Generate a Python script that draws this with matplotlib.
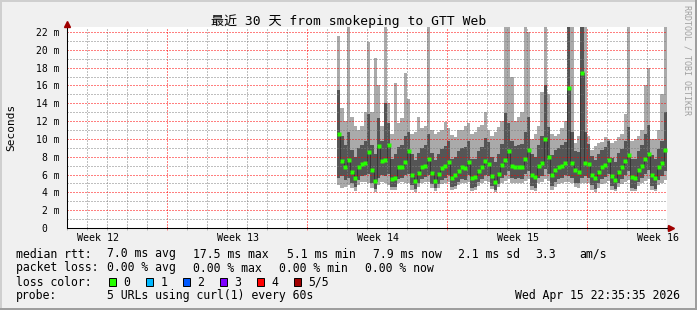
import numpy as np
import matplotlib
matplotlib.use("Agg")
import matplotlib.pyplot as plt
from matplotlib.patches import Rectangle

# sampled smoke data, ms; one sample every 4 hours starting at day 13.5 of 30
start_day = 13.5
step_day = 1 / 6

med = [10.5, 7.5, 6.8, 7.6, 6.3, 5.6, 6.9, 7.2, 7.3, 8.5,
       6.5, 5.3, 9.2, 7.5, 7.6, 9.3, 5.5, 5.6, 6.9, 6.9,
       7.4, 8.6, 6.0, 5.3, 6.2, 6.8, 7.0, 7.8, 6.2, 5.3,
       6.1, 6.7, 7.0, 7.4, 5.6, 5.9, 6.4, 6.8, 6.7, 7.4,
       5.6, 5.7, 6.4, 6.8, 7.5, 7.2, 5.8, 5.2, 6.1, 7.1,
       7.6, 8.6, 7.0, 6.8, 6.9, 6.8, 7.8, 8.7, 6.0, 5.7,
       7.0, 7.3, 10.0, 8.0, 5.9, 6.5, 6.8, 7.0, 7.3, 15.7,
       7.3, 6.5, 6.3, 17.4, 7.3, 7.2, 6.0, 5.6, 6.3, 6.8,
       7.1, 7.6, 5.8, 5.4, 6.3, 6.8, 7.5, 8.2, 5.7, 5.6,
       6.5, 7.0, 7.7, 8.3, 6.0, 5.6, 6.8, 7.3, 8.8]

lo = [4.8, 4.5, 4.6, 4.8, 4.5, 4.2, 4.8, 5.2, 5.2, 5.0,
      4.5, 4.0, 4.8, 5.2, 5.0, 4.8, 4.3, 4.3, 5.0, 5.2,
      5.0, 5.0, 4.3, 4.0, 4.6, 5.0, 5.2, 5.2, 4.5, 4.2,
      4.5, 4.9, 5.1, 5.2, 4.3, 4.4, 4.8, 5.0, 5.0, 5.2,
      4.2, 4.3, 4.7, 5.0, 5.3, 5.2, 4.4, 4.0, 4.6, 5.0,
      5.3, 5.5, 5.0, 5.0, 5.0, 5.0, 5.3, 5.5, 4.3, 4.2,
      5.0, 5.2, 5.5, 5.3, 4.3, 4.6, 4.9, 5.0, 5.2, 5.2,
      5.0, 4.6, 4.5, 5.0, 5.0, 5.0, 4.3, 4.0, 4.5, 4.9,
      5.1, 5.3, 4.3, 4.1, 4.6, 4.9, 5.2, 5.4, 4.2, 4.1,
      4.7, 5.0, 5.3, 5.5, 4.3, 4.1, 4.8, 5.1, 5.4]

q1 = [5.6, 5.8, 5.4, 5.6, 5.0, 4.6, 5.4, 5.8, 5.9, 6.1,
      5.1, 4.4, 5.6, 5.9, 5.8, 6.1, 4.6, 4.6, 5.5, 5.6,
      5.9, 6.1, 4.8, 4.4, 5.0, 5.5, 5.7, 6.0, 4.9, 4.5,
      4.9, 5.4, 5.6, 5.9, 4.6, 4.7, 5.2, 5.5, 5.4, 5.9,
      4.5, 4.6, 5.2, 5.5, 6.0, 5.8, 4.7, 4.3, 4.9, 5.6,
      6.0, 6.4, 5.6, 5.5, 5.6, 5.5, 6.1, 6.4, 4.7, 4.5,
      5.6, 5.8, 6.6, 6.1, 4.7, 5.2, 5.5, 5.6, 5.9, 5.8,
      5.6, 5.1, 5.0, 5.6, 5.8, 5.6, 4.8, 4.4, 5.0, 5.5,
      5.7, 6.1, 4.7, 4.4, 5.0, 5.5, 6.0, 6.4, 4.5, 4.4,
      5.2, 5.6, 6.1, 6.5, 4.7, 4.4, 5.4, 5.8, 6.4]

q3 = [15.5, 10.3, 9.3, 10.8, 8.8, 8.0, 9.0, 9.3, 9.8, 12.8,
      9.3, 8.3, 12.3, 9.8, 14.0, 11.8, 7.8, 8.3, 9.1, 9.3,
      10.3, 10.8, 8.3, 7.6, 8.4, 9.0, 9.3, 10.6, 8.4, 7.6,
      8.3, 8.9, 9.2, 9.8, 7.8, 8.0, 8.6, 9.0, 9.1, 9.8,
      7.8, 7.8, 8.6, 9.1, 10.1, 9.6, 8.0, 7.4, 8.3, 9.4,
      12.9, 11.8, 9.8, 9.2, 9.3, 9.4, 10.8, 12.5, 8.3, 8.0,
      9.3, 10.3, 16.0, 11.3, 8.2, 8.7, 9.0, 9.3, 9.7, 22.6,
      10.8, 8.6, 8.5, 22.6, 10.8, 9.4, 8.1, 7.6, 8.3, 8.8,
      9.1, 9.8, 7.9, 7.4, 8.4, 8.9, 9.8, 11.3, 7.8, 7.7,
      8.6, 9.3, 10.6, 11.6, 8.2, 7.7, 8.9, 9.8, 13.0]

hi = [21.6, 13.5, 12.0, 22.6, 12.5, 11.5, 11.0, 11.5, 13.0, 20.9,
      13.0, 19.1, 16.0, 11.5, 22.6, 14.0, 10.5, 16.3, 11.8, 12.3,
      17.4, 14.5, 10.5, 10.8, 12.5, 11.2, 11.5, 22.6, 11.0, 10.6,
      10.8, 11.0, 11.9, 11.2, 10.4, 10.2, 11.0, 11.0, 11.5, 11.8,
      10.6, 10.8, 11.3, 11.6, 13.0, 11.0, 10.3, 10.8, 11.3, 12.0,
      22.6, 22.6, 17.0, 12.0, 12.5, 13.0, 22.6, 22.0, 10.0, 10.5,
      11.5, 15.3, 22.6, 15.0, 10.6, 10.3, 10.6, 11.2, 12.0, 22.6,
      22.6, 9.5, 10.3, 22.6, 22.6, 10.3, 8.8, 9.2, 9.5, 9.7,
      10.2, 10.0, 9.5, 9.8, 10.2, 10.5, 12.8, 22.6, 9.8, 10.0,
      10.3, 11.0, 16.0, 18.0, 10.0, 10.0, 11.0, 15.0, 22.6]

week_labels = ["Week 12", "Week 13", "Week 14", "Week 15", "Week 16"]
week_label_days = [1.55, 8.55, 15.55, 22.55, 29.55]
week_grid_days = [5, 12, 19, 26]

loss_labels = ["0", "1", "2", "3", "4", "5/5"]
loss_colors = ["#26ff00", "#00b8ff", "#0059ff", "#7e00ff", "#ff0000", "#a10000"]

legend_lines = [
    [("median rtt:", 16), ("7.0 ms avg", 107), ("17.5 ms max", 193.3), ("5.1 ms min", 286.7),
     ("7.9 ms now", 372.7), ("2.1 ms sd", 458.3), ("3.3", 535), ("am/s", 579.3)],
    [("packet loss:", 16), ("0.00 % avg", 107), ("0.00 % max", 193.3), ("0.00 % min", 279.3),
     ("0.00 % now", 365)],
    [("loss color:", 16)],
    [("probe:", 16), ("5 URLs using curl(1) every 60s", 107)],
]
legend_y = [254, 268, 282, 296]

W, H = 697, 310
MONO = "DejaVu Sans Mono"


def fx(x):
    return x / W


def fy(y):
    return 1 - y / H


fig = plt.figure(figsize=(W / 100, H / 100), dpi=100, facecolor="#f0f0f0")

# 3d border like rrdtool
fig.add_artist(Rectangle((0, fy(2)), 1, fy(0) - fy(2), transform=fig.transFigure,
                         color="#cfcfcf", lw=0))
fig.add_artist(Rectangle((0, 0), fx(2), 1, transform=fig.transFigure,
                         color="#cfcfcf", lw=0))
fig.add_artist(Rectangle((0, 0), 1, fy(308), transform=fig.transFigure,
                         color="#9e9e9e", lw=0))
fig.add_artist(Rectangle((fx(695), 0), fx(2), 1, transform=fig.transFigure,
                         color="#9e9e9e", lw=0))

L, R, T, B = 67, 667, 27, 228
ax = fig.add_axes([fx(L), fy(B), (R - L) / W, (B - T) / H])
ax.set_facecolor("white")
ymax = (B - T) / ((B - 32) / 22)
ax.set_xlim(0, 30)
ax.set_ylim(0, ymax)

n = len(med)
x = start_day + np.arange(n + 1) * step_day
ext = lambda a: list(a) + [a[-1]]

ax.fill_between(x, ext(lo), ext(hi), step="post", color="#aaaaaa", lw=0, zorder=1)
ax.fill_between(x, ext(q1), ext(q3), step="post", color="#555555", lw=0, zorder=2)
ax.step(x, ext(med), where="post", color="#2a2a2a", lw=0.5, zorder=3)
ax.plot(x[:-1] + step_day / 2, med, ls="none", marker="s", ms=2.7,
        color=loss_colors[0], mec="none", zorder=4)

# grid
ax.set_yticks(np.arange(0, 23, 2))
ax.set_yticks(np.arange(0, 23, 1), minor=True)
ax.set_xticks(week_grid_days)
ax.set_xticks(np.arange(0, 31, 1), minor=True)
ax.grid(which="minor", color=(0.5, 0.5, 0.5, 0.2), ls=(0, (1, 2)), lw=0.72, zorder=5)
ax.grid(which="major", color=(1, 0, 0, 0.22), ls=(0, (1, 2)), lw=0.72, zorder=5)
ax.set_axisbelow(False)

ylabels = [f"{v} m" if v else "0  " for v in range(0, 23, 2)]
ax.set_yticklabels(ylabels, fontfamily=MONO, fontsize=7)
ax.tick_params(axis="y", which="both", length=0, pad=5.4)
ax.tick_params(axis="x", which="major", direction="inout", length=3, width=0.7,
               color=(1, 0, 0, 0.5), labelbottom=False)
ax.tick_params(axis="x", which="minor", direction="inout", length=3, width=0.7,
               color=(0.5, 0.5, 0.5, 0.5))

for s in ("top", "right"):
    ax.spines[s].set_visible(False)
for s in ("left", "bottom"):
    ax.spines[s].set_linewidth(0.75)
    ax.spines[s].set_zorder(6)

ax.plot([30.18], [0], marker=">", ms=4.5, color="#a00000", clip_on=False, zorder=7)
ax.plot([0], [22.9], marker="^", ms=4.5, color="#a00000", clip_on=False, zorder=7)

for lab, d in zip(week_labels, week_label_days):
    ax.text(d, -(237.7 - B) / (B - T), lab, transform=ax.get_xaxis_transform(),
            ha="center", va="center", fontfamily=MONO, fontsize=7.2)

# texts
fig.text(fx(348.5), fy(21), "最近 30 天 from smokeping to GTT Web",
         ha="center", va="center", fontsize=9.4,
         family=[MONO, "Noto Sans CJK SC"])
fig.text(fx(11), fy(127), "Seconds", rotation=90, ha="center", va="center",
         fontfamily=MONO, fontsize=8)
fig.text(fx(687), fy(60), "RRDTOOL / TOBI OETIKER", rotation=270, ha="center",
         va="center", fontfamily=MONO, fontsize=6, color="#a0a0a0")

for items, yy in zip(legend_lines, legend_y):
    for txt, xx in items:
        fig.text(fx(xx), fy(yy), txt, ha="left", va="center", fontfamily=MONO,
                 fontsize=8.3)

for k, (lab, col) in enumerate(zip(loss_labels, loss_colors)):
    sx = 108.5 + 37 * k
    fig.add_artist(Rectangle((fx(sx), fy(286)), 7 / W, 8 / H, transform=fig.transFigure,
                             facecolor=col, edgecolor="black", lw=0.7))
    fig.text(fx(123.3 + 37 * k), fy(legend_y[2]), lab, ha="left", va="center",
             fontfamily=MONO, fontsize=8.3)

fig.text(fx(680), fy(legend_y[3]), "Wed Apr 15 22:35:35 2026", ha="right",
         va="center", fontfamily=MONO, fontsize=8.3)

fig.savefig("out.png", dpi=100, facecolor=fig.get_facecolor())
